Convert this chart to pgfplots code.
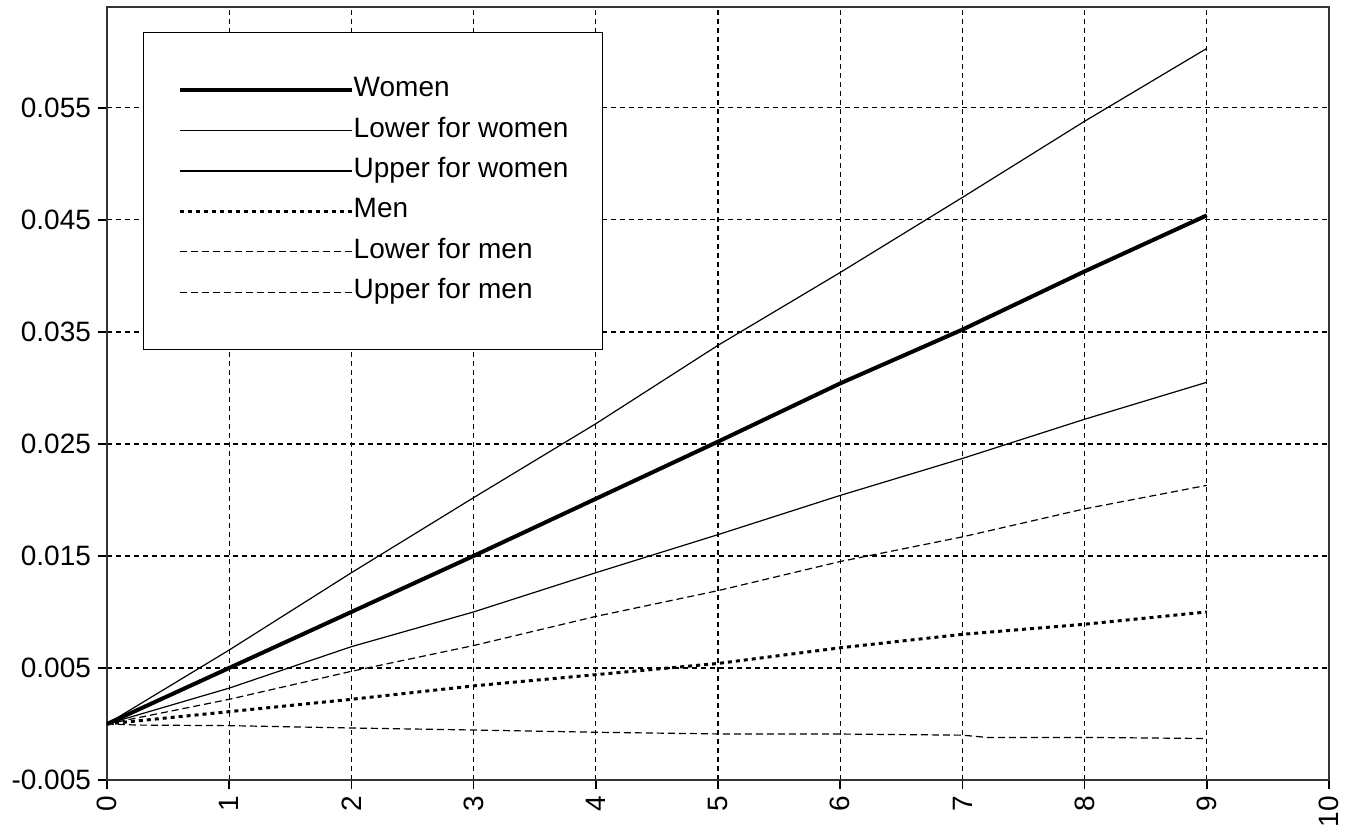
\documentclass[border=0pt]{standalone}
\usepackage{pgfplots}
\pgfplotsset{compat=1.18}
\usepackage{fontspec}
\setmainfont{Liberation Sans}
\begin{document}
\begin{tikzpicture}
\begin{axis}[
  scale only axis,
  width=611pt, height=386.5pt,
  xmin=0, xmax=10, ymin=-0.005, ymax=0.064,
  scaled y ticks=false, scaled x ticks=false,
  xtick={0,1,2,3,4,5,6,7,8,9,10},
  xticklabels={0,1,2,3,4,5,6,7,8,9,10},
  ytick={-0.005,0.005,0.015,0.025,0.035,0.045,0.055},
  yticklabels={-0.005,0.005,0.015,0.025,0.035,0.045,0.055},
  tick align=outside,
  major tick length=4.5pt,
  tick style={black, line width=0.8pt},
  xtick pos=bottom, ytick pos=left,
  axis line style={line width=0.9pt, black!80},
  ticklabel style={font=\fontsize{14}{16}\selectfont},
  xticklabel style={rotate=90, anchor=east},
  grid=major,
  major grid style={black, line width=0.65pt, dash pattern=on 2.5pt off 2pt},
  legend cell align=left,
  legend style={
    at={(0.02946,0.96766)}, anchor=north west,
    draw=black, line width=0.7pt,
    inner xsep=17pt, inner ysep=22pt,
    font=\fontsize{14}{16}\selectfont,
    nodes={inner sep=0pt, text height=10pt, text depth=3.5pt},
    row sep=6.7pt, column sep=0pt,
  },
  legend image code/.code={\draw[#1] (0pt,0pt) -- (86pt,0pt);},
]
\addplot[black, line width=2pt] coordinates {
 (0,0) (1,0.0050) (2,0.0100) (3,0.0150) (4,0.0201) (5,0.0252) (6,0.0304) (7,0.0352) (8,0.0404) (9,0.0454)};
\addlegendentry{Women}
\addplot[black, line width=0.6pt] coordinates {
 (0,0) (1,0.0032) (2,0.0069) (3,0.0100) (4,0.0135) (5,0.0169) (6,0.0204) (7,0.0237) (8,0.0272) (9,0.0305)};
\addlegendentry{Lower for women}
\addplot[black, line width=0.6pt] coordinates {
 (0,0) (1,0.0066) (2,0.0135) (3,0.0202) (4,0.0268) (5,0.0338) (6,0.0403) (7,0.0470) (8,0.0538) (9,0.0603)};
\addlegendentry{Upper for women}
\addplot[black, line width=1.5pt, dash pattern=on 2pt off 2pt] coordinates {
 (0,0) (1,0.0011) (2,0.0022) (3,0.0034) (4,0.0044) (5,0.0054) (6,0.0068) (7,0.0080) (8,0.0089) (9,0.0100)};
\addlegendentry{Men}
\addplot[black, line width=0.6pt, dash pattern=on 3.5pt off 2pt] coordinates {
 (0,0) (0.25,-0.0001) (1,-0.00015) (2,-0.00036) (3,-0.00054) (4,-0.00074) (5,-0.00089) (6,-0.0009) (7,-0.0010) (7.2,-0.0012) (8,-0.0012) (9,-0.0013)};
\addlegendentry{Lower for men}
\addplot[black, line width=0.6pt, dash pattern=on 3.5pt off 2pt] coordinates {
 (0,0) (1,0.0022) (2,0.0047) (3,0.0070) (4,0.0096) (5,0.0119) (6,0.0145) (7,0.0167) (8,0.0192) (9,0.0213)};
\addlegendentry{Upper for men}
\end{axis}
\path ([shift={(-53.5pt,-23.5pt)}]current axis.south west) rectangle ([shift={(15.5pt,3.5pt)}]current axis.north east);
\end{tikzpicture}
\end{document}
